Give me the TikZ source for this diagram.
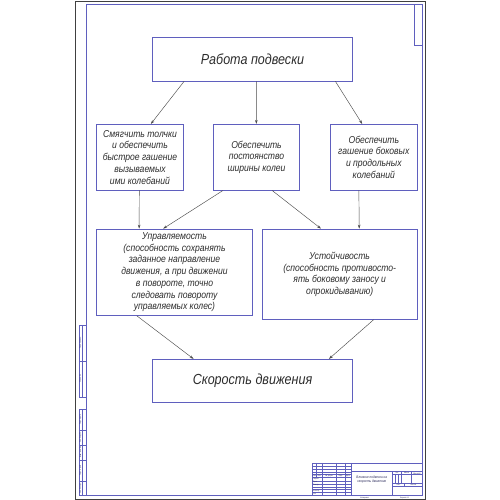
\documentclass[tikz,border=0pt]{standalone}
\usepackage{fontspec}
\setmainfont{Liberation Sans}[FakeStretch=0.86]
\usetikzlibrary{arrows.meta,calc}
\definecolor{frameblue}{RGB}{95,95,190}
\definecolor{ink}{RGB}{45,45,45}
\tikzset{
  box/.style={draw=frameblue, line width=0.8pt, rectangle, align=center,
    font=\itshape\fontsize{10}{11.7}\selectfont, text=ink, inner sep=0pt},
  bigbox/.style={box, font=\itshape\fontsize{14.6}{18}\selectfont},
  conn/.style={draw=ink!85, line width=0.45pt, -{Stealth[length=4pt,width=2.6pt]}},
  fr/.style={draw=frameblue, line width=0.7pt},
  thinl/.style={draw=frameblue, line width=0.35pt},
  tiny/.style={font=\fontsize{2}{2.4}\selectfont, text=frameblue!50!black, inner sep=0pt},
  small/.style={font=\itshape\fontsize{3.6}{4.3}\selectfont, text=frameblue!50!black, inner sep=0pt, align=center},
}
\begin{document}
\begin{tikzpicture}[x=1pt,y=-1pt]
\useasboundingbox (0,0) rectangle (500,500);
\fill[white] (0,0) rectangle (500,500);
% sheet and frame
\draw[black!75, line width=0.9pt] (75,1) rectangle (425.5,499);
\draw[fr] (86,4) rectangle (422.3,495.6);
\draw[fr] (414,4) rectangle (422.3,45.6);

% left strips
\draw[thinl] (78.9,409.3) rectangle (86,495.6);
\draw[thinl] (81.9,409.3) -- (81.9,495.6);
\foreach \yy in {430.1,445,459.9,480.7} \draw[thinl] (78.9,\yy) -- (86,\yy);
\draw[thinl] (78.9,325) rectangle (86,397);
\draw[thinl] (81.9,325) -- (81.9,397);
\draw[thinl] (78.9,361) -- (86,361);
\node[tiny, rotate=90] (s1) at (80.4,488.1) {Инв. № подл.};
\node[tiny, rotate=90] (s2) at (80.4,470.3) {Подп. и дата};
\node[tiny, rotate=90] (s3) at (80.4,452.4) {Взам. инв. №};
\node[tiny, rotate=90] (s4) at (80.4,437.5) {Инв. № дубл.};
\node[tiny, rotate=90] (s5) at (80.4,419.7) {Подп. и дата};
\node[tiny, rotate=90] (s6) at (80.4,379) {Справ. №};
\node[tiny, rotate=90] (s7) at (80.4,343) {Перв. примен.};

% title block (GOST form 1, mm units)
\begin{scope}[shift={(312.3,462.9)}, x=0.5946pt, y=-0.5946pt]
  \draw[fr] (0,0) rectangle (185,55);
  \foreach \yy in {5,10,15,30,35,40,45,50} \draw[thinl] (0,\yy) -- (65,\yy);
  \draw[fr] (0,20) -- (65,20);
  \draw[fr] (0,25) -- (65,25);
  \foreach \xx in {7} \draw[thinl] (\xx,0) -- (\xx,25);
  \foreach \xx in {17,40,55} \draw[fr] (\xx,0) -- (\xx,55);
  \draw[fr] (65,0) -- (65,55);
  \draw[fr] (65,15) -- (185,15);
  \draw[fr] (135,15) -- (135,55);
  \draw[fr] (135,20) -- (185,20);
  \draw[fr] (135,35) -- (185,35);
  \draw[fr] (135,40) -- (185,40);
  \foreach \xx in {140,145} \draw[thinl] (\xx,20) -- (\xx,35);
  \draw[fr] (150,15) -- (150,35);
  \draw[fr] (167,15) -- (167,35);
  \draw[fr] (155,35) -- (155,40);
  \node[tiny] (h1) at (3.5,22.5) {Изм.};
  \node[tiny] (h2) at (12,22.5) {Лист};
  \node[tiny] (h3) at (28.5,22.5) {№ докум.};
  \node[tiny] (h4) at (47.5,22.5) {Подп.};
  \node[tiny] (h5) at (60,22.5) {Дата};
  \node[tiny, anchor=west] (r1) at (0.7,27.5) {Разраб.};
  \node[tiny, anchor=west] (r2) at (0.7,32.5) {Пров.};
  \node[tiny, anchor=west] (r3) at (0.7,37.5) {Т.контр.};
  \node[tiny, anchor=west] (r4) at (0.7,47.5) {Н.контр.};
  \node[tiny, anchor=west] (r5) at (0.7,52.5) {Утв.};
  \node[tiny] (l1) at (142.5,17.5) {Лит.};
  \node[tiny] (l2) at (158.5,17.5) {Масса};
  \node[tiny] (l3) at (176,17.5) {Масштаб};
  \node[tiny] (l4) at (145,37.5) {Лист};
  \node[tiny] (l5) at (170,37.5) {Листов};
  \node[small] (nm) at (100,27.5) {Влияние подвески на\\скорость движения};
  \node[tiny] (k1) at (88,58.5) {Копировал};
  \node[tiny] (k2) at (155,58.5) {Формат А4};
\end{scope}

% diagram boxes
\node[bigbox, minimum width=200.4pt, minimum height=43.3pt] (top) at (252.5,59.3) {Работа подвески};
\node[box, minimum width=87.4pt, minimum height=65.7pt] (A) at (140,157.2)
  {Смягчить толчки\\и обеспечить\\быстрое гашение\\вызываемых\\ими колебаний};
\node[box, minimum width=86.4pt, minimum height=65.7pt] (B) at (256.5,157.2)
  {Обеспечить\\постоянство\\ширины колеи};
\node[box, minimum width=87pt, minimum height=65.7pt] (C) at (373.8,157.2)
  {Обеспечить\\гашение боковых\\и продольных\\колебаний};
\node[box, minimum width=156.4pt, minimum height=86.3pt] (D) at (174.5,272.2)
  {Управляемость\\(способность сохранять\\заданное направление\\движения, а при движении\\в повороте, точно\\следовать повороту\\управляемых колес)};
\node[box, minimum width=155.3pt, minimum height=90.3pt] (E) at (339.7,274.2)
  {Устойчивость\\(способность противосто-\\ять боковому заносу и\\опрокидыванию)};
\node[bigbox, minimum width=200.4pt, minimum height=43pt] (bot) at (252.5,380.8) {Скорость движения};

% connectors
\draw[conn] ($(top.south west)!0.16!(top.south east)$) -- ($(A.north west)!0.623!(A.north east)$);
\draw[conn] ($(top.south west)!0.519!(top.south east)$) -- ($(B.north west)!0.498!(B.north east)$);
\draw[conn] ($(top.south west)!0.912!(top.south east)$) -- ($(C.north west)!0.368!(C.north east)$);
\draw[conn] ($(A.south west)!0.492!(A.south east)$) -- ($(D.north west)!0.275!(D.north east)$);
\draw[conn] ($(B.south west)!0.116!(B.south east)$) -- ($(D.north west)!0.428!(D.north east)$);
\draw[conn] ($(B.south west)!0.679!(B.south east)$) -- ($(E.north west)!0.38!(E.north east)$);
\draw[conn] ($(C.south west)!0.33!(C.south east)$) -- ($(E.north west)!0.625!(E.north east)$);
\draw[conn] ($(D.south west)!0.26!(D.south east)$) -- ($(bot.north west)!0.207!(bot.north east)$);
\draw[conn] ($(E.south west)!0.717!(E.south east)$) -- ($(bot.north west)!0.88!(bot.north east)$);
\end{tikzpicture}
\end{document}
